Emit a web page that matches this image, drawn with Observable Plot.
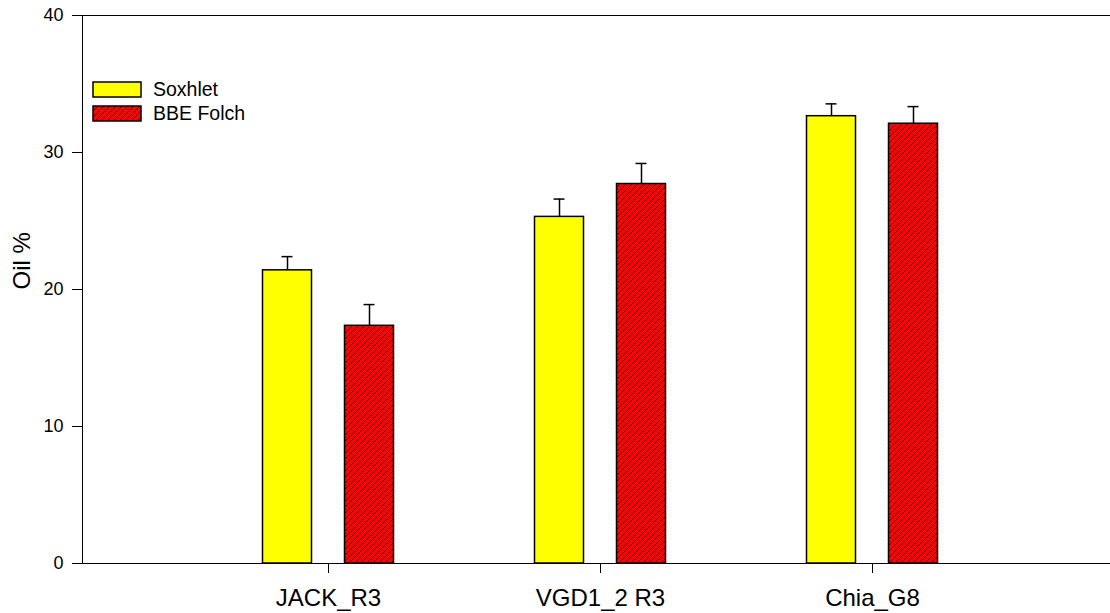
<!DOCTYPE html>
<html>
<head>
<meta charset="utf-8">
<script src="https://cdn.jsdelivr.net/npm/d3@7"></script>
<script src="https://cdn.jsdelivr.net/npm/@observablehq/plot@0.6"></script>
<style>
  html, body { margin: 0; padding: 0; background: white; overflow: hidden; }
  #wrap { position: relative; width: 1110px; height: 613px; overflow: hidden; }
  #wrap > svg { max-width: none !important; }
  #legend { position: absolute; left: 0; top: 0; }
</style>
</head>
<body>
<div id="wrap"></div>
<script>
const categories = ["JACK_R3", "VGD1_2 R3", "Chia_G8"];
const series = ["Soxhlet", "BBE Folch"];
const soxhletValues = [21.4, 25.3, 32.65];
const soxhletErrors = [1.0, 1.3, 0.9];
const folchValues = [17.35, 27.7, 32.1];
const folchErrors = [1.55, 1.5, 1.25];
const yTicks = [0, 10, 20, 30, 40];
const yLabel = "Oil %";

const sox = categories.map((c, i) => ({cat: c, value: soxhletValues[i], hi: soxhletValues[i] + soxhletErrors[i]}));
const folch = categories.map((c, i) => ({cat: c, value: folchValues[i], hi: folchValues[i] + folchErrors[i]}));

const font = "'Liberation Sans', Arial, sans-serif";

const chart = Plot.plot({
  width: 1118,
  height: 613,
  marginLeft: 82,
  marginRight: 0,
  marginTop: 15,
  marginBottom: 50,
  style: {fontFamily: font, background: "white", color: "black", overflow: "visible", maxWidth: "none"},
  x: {type: "band", domain: categories, range: [191.5, 1007.5], padding: 0, label: null},
  y: {domain: [0, 40], label: null},
  marks: [
    Plot.frame({stroke: "black", strokeWidth: 1}),
    Plot.barY(sox, {x: "cat", y: "value", fill: "#ffff00", stroke: "black", strokeWidth: 1.5, insetLeft: 70.5, insetRight: 152.5}),
    Plot.barY(folch, {x: "cat", y: "value", fill: "#ff0000", insetLeft: 152.5, insetRight: 70.5}),
    Plot.barY(folch, {x: "cat", y: "value", fill: "url(#hatch)", stroke: "black", strokeWidth: 1.5, insetLeft: 152.5, insetRight: 70.5}),
    Plot.ruleX(sox, {x: "cat", y1: "value", y2: "hi", dx: -41, stroke: "black", strokeWidth: 1.5}),
    Plot.ruleX(folch, {x: "cat", y1: "value", y2: "hi", dx: 41, stroke: "black", strokeWidth: 1.5}),
    Plot.tickY(sox, {x: "cat", y: "hi", stroke: "black", strokeWidth: 1.5, insetLeft: 89.5, insetRight: 171.5}),
    Plot.tickY(folch, {x: "cat", y: "hi", stroke: "black", strokeWidth: 1.5, insetLeft: 171.5, insetRight: 89.5}),
    Plot.axisY({ticks: yTicks, tickSize: 10, tickPadding: 9, fontSize: 18, label: null, stroke: "black", strokeOpacity: 1}),
    Plot.axisX({tickSize: 10, tickPadding: 15, fontSize: 24, label: null, stroke: "black", strokeOpacity: 1}),
    Plot.text([yLabel], {frameAnchor: "left", rotate: -90, dx: -60, fontSize: 24, fill: "black"})
  ]
});

const svg = d3.select(chart);
const defs = svg.insert("defs", ":first-child");
const pat = defs.append("pattern")
  .attr("id", "hatch").attr("patternUnits", "userSpaceOnUse")
  .attr("width", 6).attr("height", 6);
pat.append("path").attr("d", "M0,6L6,0M-1,1L1,-1M5,7L7,5")
  .attr("stroke", "black").attr("stroke-width", 0.7);

document.getElementById("wrap").appendChild(chart);

// legend overlay inside the plot area
const legendColors = ["#ffff00", "#ff0000"];
const lg = d3.select("#wrap").append("svg").attr("id", "legend")
  .attr("width", 400).attr("height", 140);
const ldefs = lg.append("defs");
const lp = ldefs.append("pattern")
  .attr("id", "hatch2").attr("patternUnits", "userSpaceOnUse")
  .attr("width", 6).attr("height", 6);
lp.append("path").attr("d", "M0,6L6,0M-1,1L1,-1M5,7L7,5")
  .attr("stroke", "black").attr("stroke-width", 0.7);
series.forEach((s, i) => {
  const y = 82 + i * 24;
  lg.append("rect").attr("x", 93).attr("y", y).attr("width", 48).attr("height", 15)
    .attr("fill", legendColors[i]).attr("stroke", "none");
  if (i === 1) {
    lg.append("rect").attr("x", 93).attr("y", y).attr("width", 48).attr("height", 15)
      .attr("fill", "url(#hatch2)");
  }
  lg.append("rect").attr("x", 93).attr("y", y).attr("width", 48).attr("height", 15)
    .attr("fill", "none").attr("stroke", "black").attr("stroke-width", 1.5);
  lg.append("text").attr("x", 153).attr("y", y + 7.5).attr("dy", "0.35em")
    .attr("font-family", font).attr("font-size", 19.5).attr("fill", "black").text(s);
});
</script>
</body>
</html>
